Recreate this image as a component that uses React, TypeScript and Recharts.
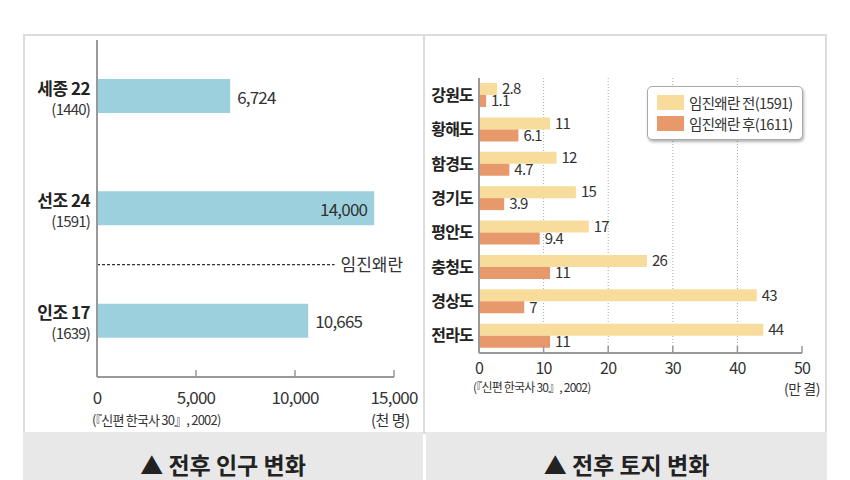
import React from "react";
import {
  Bar,
  BarChart,
  CartesianGrid,
  LabelList,
  Legend,
  ReferenceLine,
  XAxis,
  YAxis,
} from "recharts";

// 전후 인구 변화 (천 명)
const reigns = ["세종 22", "선조 24", "인조 17"];
const reignYears = ["(1440)", "(1591)", "(1639)"];
const population = [6724, 14000, 10665];
const popTicks = [0, 5000, 10000, 15000];

// 전후 토지 변화 (만 결)
const provinces = ["강원도", "황해도", "함경도", "경기도", "평안도", "충청도", "경상도", "전라도"];
const landBefore = [2.8, 11, 12, 15, 17, 26, 43, 44];
const landAfter = [1.1, 6.1, 4.7, 3.9, 9.4, 11, 7, 11];
const landTicks = [0, 10, 20, 30, 40, 50];

const popData = reigns.map((name, i) => ({ name, year: reignYears[i], value: population[i] }));
const landData = provinces.map((name, i) => ({ name, before: landBefore[i], after: landAfter[i] }));

const FONT = "'Noto Sans CJK KR', 'Noto Sans', sans-serif";
const fmt = new Intl.NumberFormat("en-US");

function ReignTick({ x, y, payload, index }: any) {
  return (
    <g fontFamily={FONT}>
      <text x={x} y={y - 9} textAnchor="end" dominantBaseline="central" fontSize={17} fontWeight={700} fill="#222" letterSpacing={-0.5}>
        {payload.value}
      </text>
      <text x={x} y={y + 12} textAnchor="end" dominantBaseline="central" fontSize={15} fill="#333" letterSpacing={-0.8}>
        {reignYears[index]}
      </text>
    </g>
  );
}

function AxisTick({ x, y, payload, size, gap }: any) {
  return (
    <g fontFamily={FONT}>
      {payload.value !== 0 && <line x1={x} x2={x} y1={y - 7} y2={y} stroke="#999" strokeWidth={1.5} />}
      <text x={x} y={y + gap} textAnchor="middle" dominantBaseline="central" fontSize={size} fill="#333" letterSpacing={-0.8}>
        {fmt.format(payload.value)}
      </text>
    </g>
  );
}

function PopLabel({ x, y, width, height, value }: any) {
  const inside = value > 12000;
  return (
    <text
      x={inside ? x + width - 7 : x + width + 7}
      y={y + height / 2}
      textAnchor={inside ? "end" : "start"}
      dominantBaseline="central"
      fontSize={17}
      fill="#333"
      fontFamily={FONT}
      letterSpacing={-0.8}
    >
      {fmt.format(value)}
    </text>
  );
}

function LandLegend({ payload }: any) {
  return (
    <div
      style={{
        border: "1px solid #aaa",
        borderRadius: 5,
        background: "#fff",
        boxShadow: "1px 2px 3px rgba(0,0,0,0.3)",
        padding: "5px 9px",
        fontFamily: FONT,
        whiteSpace: "nowrap",
        display: "inline-block",
      }}
    >
      {(payload || []).map((p: any) => (
        <div key={p.value} style={{ display: "flex", alignItems: "center", height: 21 }}>
          <span style={{ width: 27, height: 15, background: p.color, marginRight: 5, flex: "none" }} />
          <span style={{ fontSize: 14.5, color: "#333", letterSpacing: -0.7 }}>{p.value}</span>
        </div>
      ))}
    </div>
  );
}

export default function App() {
  return (
    <div style={{ position: "absolute", left: 0, top: 0, width: 850, height: 480, background: "#fff", fontFamily: FONT, overflow: "hidden" }}>
      {/* frame */}
      <div style={{ position: "absolute", left: 23, top: 34, width: 804, height: 400, border: "2px solid #dcdcdc", boxSizing: "border-box" }} />
      <div style={{ position: "absolute", left: 423, top: 34, width: 2, height: 400, background: "#dcdcdc" }} />
      <div style={{ position: "absolute", left: 23, top: 432, width: 400, height: 48, background: "#e8e8e8" }} />
      <div style={{ position: "absolute", left: 426, top: 432, width: 401, height: 48, background: "#e8e8e8" }} />
      <div style={{ position: "absolute", left: 23, top: 450, width: 400, textAlign: "center", fontSize: 23, lineHeight: "28px", fontWeight: 700, color: "#222" }}>
        ▲ 전후 인구 변화
      </div>
      <div style={{ position: "absolute", left: 426, top: 450, width: 401, textAlign: "center", fontSize: 23, lineHeight: "28px", fontWeight: 700, color: "#222" }}>
        ▲ 전후 토지 변화
      </div>

      {/* left chart */}
      <div style={{ position: "absolute", left: 25, top: 36 }}>
        <BarChart width={399} height={396} data={popData} layout="vertical" margin={{ top: 4, right: 30, bottom: 25, left: 0 }}>
          <XAxis
            type="number"
            dataKey="value"
            domain={[0, 15000]}
            ticks={popTicks}
            axisLine={{ stroke: "#999", strokeWidth: 2 }}
            tickLine={false}
            tickSize={0}
            tickMargin={0}
            height={30}
            interval={0}
            tick={<AxisTick size={17} gap={19} />}
          />
          <YAxis
            type="category"
            dataKey="name"
            width={72}
            axisLine={{ stroke: "#999", strokeWidth: 2 }}
            tickLine={false}
            tickSize={0}
            tickMargin={7}
            tick={<ReignTick />}
          />
          <ReferenceLine
            segment={[{ x: 0, y: "인조 17" }, { x: 12000, y: "인조 17" }]}
            position="start"
            stroke="#333"
            strokeWidth={1.3}
            strokeDasharray="3 2"
            label={{ value: "임진왜란", position: "right", offset: 6, fontSize: 17, fill: "#333", fontFamily: FONT }}
          />
          <Bar dataKey="value" fill="#9dd0dd" barSize={34} isAnimationActive={false}>
            <LabelList dataKey="value" content={<PopLabel />} />
          </Bar>
        </BarChart>
      </div>
      <div style={{ position: "absolute", left: 92, top: 412, fontSize: 13, lineHeight: "16px", color: "#333", letterSpacing: -0.8 }}>
        (『신편 한국사 30』, 2002)
      </div>
      <div style={{ position: "absolute", left: 371, top: 411, fontSize: 15, lineHeight: "18px", color: "#333", letterSpacing: -0.5 }}>(천 명)</div>

      {/* right chart */}
      <div style={{ position: "absolute", left: 426, top: 36 }}>
        <BarChart
          width={400}
          height={396}
          data={landData}
          layout="vertical"
          barGap={0}
          margin={{ top: 42, right: 24, bottom: 59, left: 0 }}
        >
          <CartesianGrid horizontal={false} verticalValues={[10, 20, 30, 40]} stroke="#aaa" strokeDasharray="1 2" />
          <XAxis
            type="number"
            domain={[0, 50]}
            ticks={landTicks}
            axisLine={{ stroke: "#999", strokeWidth: 2 }}
            tickLine={false}
            tickSize={0}
            tickMargin={0}
            height={20}
            interval={0}
            tick={<AxisTick size={16} gap={14} />}
          />
          <YAxis
            type="category"
            dataKey="name"
            width={53}
            axisLine={{ stroke: "#999", strokeWidth: 2 }}
            tickLine={false}
            tickSize={0}
            tickMargin={6}
            tick={{ fontSize: 16, fontWeight: 700, fill: "#222", fontFamily: FONT, letterSpacing: -0.8 }}
          />
          <Legend
            layout="vertical"
            align="center"
            verticalAlign="middle"
            content={<LandLegend />}
            wrapperStyle={{ position: "absolute", left: 221, top: 50, width: "auto" }}
          />
          <Bar dataKey="before" name="임진왜란 전(1591)" fill="#f8dc9b" barSize={12} isAnimationActive={false}>
            <LabelList dataKey="before" position="right" offset={5} fontSize={15} fill="#333" fontFamily={FONT} letterSpacing={-0.8} />
          </Bar>
          <Bar dataKey="after" name="임진왜란 후(1611)" fill="#e8996b" barSize={12} isAnimationActive={false}>
            <LabelList dataKey="after" position="right" offset={5} fontSize={15} fill="#333" fontFamily={FONT} letterSpacing={-0.8} />
          </Bar>
        </BarChart>
      </div>
      <div style={{ position: "absolute", left: 473, top: 380, fontSize: 12, lineHeight: "14px", color: "#333", letterSpacing: -0.8 }}>
        (『신편 한국사 30』, 2002)
      </div>
      <div style={{ position: "absolute", left: 784, top: 380, fontSize: 14, lineHeight: "16px", color: "#333", letterSpacing: -0.5 }}>(만 결)</div>
    </div>
  );
}
